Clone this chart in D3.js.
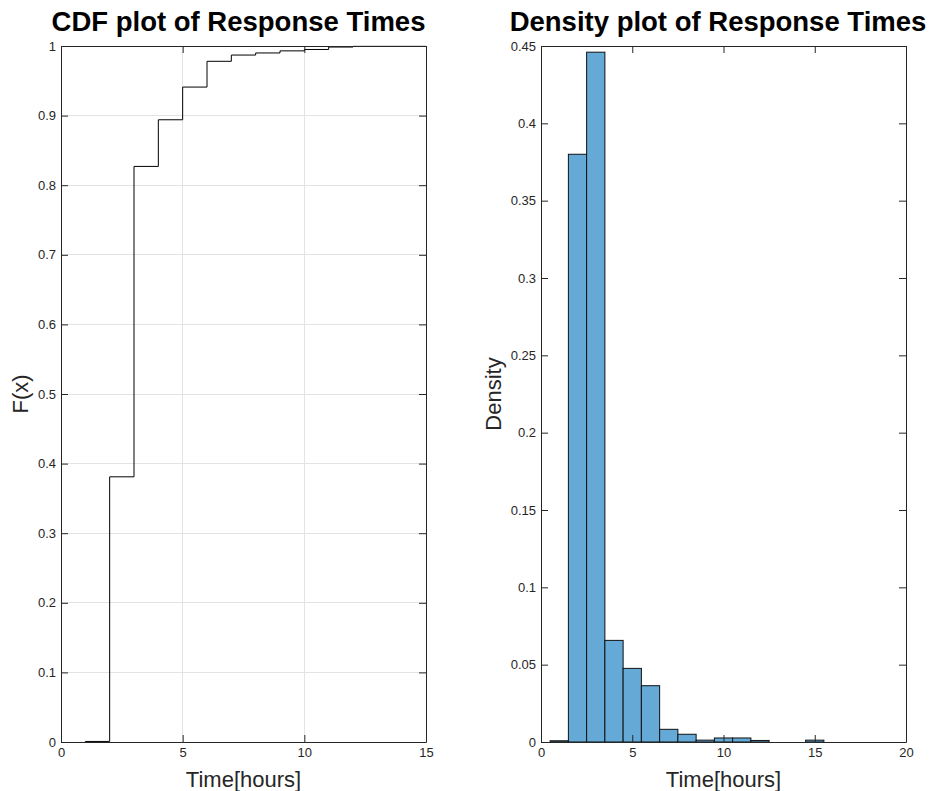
<!DOCTYPE html>
<html>
<head>
<meta charset="utf-8">
<script src="https://cdn.jsdelivr.net/npm/d3@7"></script>
<style>
  html, body { margin: 0; padding: 0; background: #fff; }
  svg { display: block; font-family: "Liberation Sans", Arial, Helvetica, sans-serif; }
</style>
</head>
<body>
<svg id="chart" width="940" height="791"></svg>
<script>
// ---- Data ----
const cdfX = [1, 2, 3, 4, 5, 6, 7, 8, 9, 10, 11, 12, 15];
const cdfY = [0.0008, 0.381, 0.827, 0.894, 0.941, 0.978, 0.987, 0.990, 0.993, 0.995, 0.9985, 0.9995, 1.0];

const binStart = [0.5, 1.5, 2.5, 3.5, 4.5, 5.5, 6.5, 7.5, 8.5, 9.5, 10.5, 11.5, 12.5, 13.5, 14.5];
const binEnd   = [1.5, 2.5, 3.5, 4.5, 5.5, 6.5, 7.5, 8.5, 9.5, 10.5, 11.5, 12.5, 13.5, 14.5, 15.5];
const density  = [0.0008, 0.380, 0.446, 0.0657, 0.0476, 0.0364, 0.0082, 0.005, 0.0012, 0.0026, 0.0026, 0.001, 0, 0, 0.0012];

const cdfXTicks = [0, 5, 10, 15];
const cdfYTicks = [0, 0.1, 0.2, 0.3, 0.4, 0.5, 0.6, 0.7, 0.8, 0.9, 1];
const denXTicks = [0, 5, 10, 15, 20];
const denYTicks = [0, 0.05, 0.1, 0.15, 0.2, 0.25, 0.3, 0.35, 0.4, 0.45];

const titles = ["CDF plot of Response Times", "Density plot of Response Times"];
const xLabel = "Time[hours]";
const yLabels = ["F(x)", "Density"];

// ---- Layout ----
const svg = d3.select("#chart");
const axisColor = "#262626";
const gridColor = "#e3e3e3";
const plotTop = 46, plotBottom = 742;
const panels = [
  { left: 61, right: 426, xDomain: [0, 15], yDomain: [0, 1], xTicks: cdfXTicks, yTicks: cdfYTicks, grid: true, titleX: 238.5, ylabX: 28 },
  { left: 541, right: 906, xDomain: [0, 20], yDomain: [0, 0.45], xTicks: denXTicks, yTicks: denYTicks, grid: false, titleX: 718, ylabX: 501 }
];
const fmt = d => String(+d.toFixed(2));

function drawAxes(p, i) {
  const x = d3.scaleLinear().domain(p.xDomain).range([p.left, p.right]);
  const y = d3.scaleLinear().domain(p.yDomain).range([plotBottom, plotTop]);
  const g = svg.append("g");

  if (p.grid) {
    g.append("g").selectAll("line").data(p.xTicks.slice(1, -1)).join("line")
      .attr("x1", d => x(d)).attr("x2", d => x(d)).attr("y1", plotTop).attr("y2", plotBottom)
      .attr("stroke", gridColor).attr("stroke-width", 1).attr("shape-rendering", "crispEdges");
    g.append("g").selectAll("line").data(p.yTicks.slice(1, -1)).join("line")
      .attr("y1", d => y(d)).attr("y2", d => y(d)).attr("x1", p.left).attr("x2", p.right)
      .attr("stroke", gridColor).attr("stroke-width", 1).attr("shape-rendering", "crispEdges");
  }
  return { x, y, g };
}

function drawFrame(p, s, i) {
  const { x, y } = s;
  const g = svg.append("g");
  const style = sel => {
    sel.select(".domain").attr("stroke", axisColor);
    sel.selectAll(".tick line").attr("stroke", axisColor);
    sel.selectAll(".tick text").attr("fill", axisColor).attr("font-size", 13)
      .attr("font-family", "Liberation Sans, Arial, Helvetica, sans-serif");
  };
  g.append("g").attr("transform", `translate(0,${plotBottom})`)
    .call(d3.axisBottom(x).tickValues(p.xTicks).tickFormat(fmt).tickSize(-7).tickSizeOuter(0).tickPadding(6)).call(style);
  g.append("g").attr("transform", `translate(0,${plotTop})`)
    .call(d3.axisTop(x).tickValues(p.xTicks).tickFormat("").tickSize(-7).tickSizeOuter(0)).call(style);
  g.append("g").attr("transform", `translate(${p.left},0)`)
    .call(d3.axisLeft(y).tickValues(p.yTicks).tickFormat(fmt).tickSize(-7).tickSizeOuter(0).tickPadding(5)).call(style);
  g.append("g").attr("transform", `translate(${p.right},0)`)
    .call(d3.axisRight(y).tickValues(p.yTicks).tickFormat("").tickSize(-7).tickSizeOuter(0)).call(style);

  const cx = (p.left + p.right) / 2;
  svg.append("text").attr("x", p.titleX).attr("y", 31).attr("text-anchor", "middle")
    .attr("font-size", 27.5).attr("font-weight", "bold").attr("fill", "#000").text(titles[i]);
  svg.append("text").attr("x", cx).attr("y", 787).attr("text-anchor", "middle")
    .attr("font-size", 22).attr("fill", axisColor).text(xLabel);
  svg.append("text").attr("transform", `translate(${p.ylabX},${(plotTop + plotBottom) / 2}) rotate(-90)`)
    .attr("text-anchor", "middle").attr("font-size", 22).attr("fill", axisColor).text(yLabels[i]);
}

// Panel 1: CDF
const s1 = drawAxes(panels[0], 0);
const cdfPts = cdfX.map((d, i) => [d, cdfY[i]]);
const stepData = [[cdfX[0], 0]].concat(cdfPts);
svg.append("path").datum(stepData)
  .attr("d", d3.line().x(d => s1.x(d[0])).y(d => s1.y(d[1])).curve(d3.curveStepAfter))
  .attr("fill", "none").attr("stroke", "#000").attr("stroke-width", 1);
drawFrame(panels[0], s1, 0);

// Panel 2: Density histogram
const s2 = drawAxes(panels[1], 1);
svg.append("g").selectAll("rect").data(density).join("rect")
  .attr("x", (d, i) => s2.x(binStart[i]))
  .attr("width", (d, i) => s2.x(binEnd[i]) - s2.x(binStart[i]))
  .attr("y", d => s2.y(d))
  .attr("height", d => s2.y(0) - s2.y(d))
  .attr("fill", "#65a9d7").attr("stroke", "#111").attr("stroke-width", 1);
drawFrame(panels[1], s2, 1);
</script>
</body>
</html>
